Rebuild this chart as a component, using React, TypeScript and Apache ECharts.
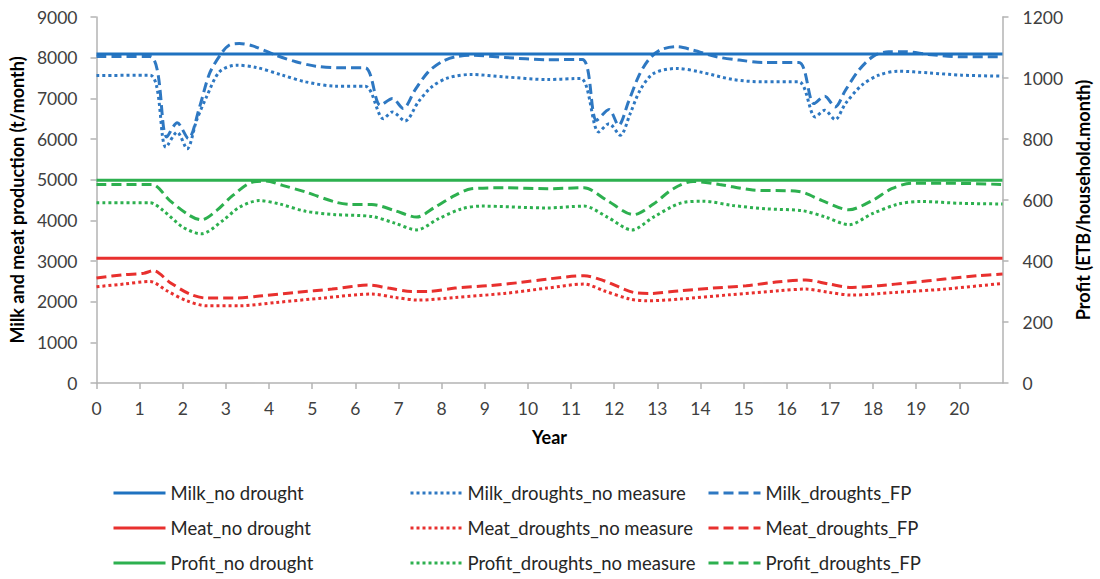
import React, { useEffect, useRef } from "react";
import * as echarts from "echarts";

// Years (x) and values
const xTickLabels = ["0","1","2","3","4","5","6","7","8","9","10","11","12","13","14","15","16","17","18","19","20"];

const milkNoDrought = [[0, 8090], [21, 8090]];
const meatNoDrought = [[0, 3070], [21, 3070]];
const profitNoDrought = [[0, 665], [21, 665]];

const milkNoMeasure = [
  [0, 7560], [1.24, 7570], [1.61, 5800], [1.87, 6170], [2.10, 5760], [2.32, 6460], [2.55, 7035],
  [2.85, 7650], [3.24, 7816], [3.70, 7760], [4.31, 7570], [4.85, 7405], [5.54, 7300], [6.23, 7300],
  [6.65, 6500], [6.86, 6665], [7.15, 6443], [7.46, 6912], [7.77, 7282], [8.15, 7504], [8.69, 7587],
  [9.45, 7528], [10.45, 7463], [11.22, 7490], [11.64, 6172], [11.88, 6378], [12.14, 6090], [12.37, 6625],
  [12.60, 7200], [12.91, 7611], [13.45, 7734], [13.98, 7651], [14.75, 7463], [15.44, 7405], [16.28, 7405],
  [16.66, 6542], [16.88, 6707], [17.12, 6477], [17.36, 6871], [17.74, 7323], [18.13, 7570], [18.59, 7668],
  [19.28, 7626], [20.05, 7570], [21, 7545],
];

const milkFP = [
  [0, 8030], [1.24, 8030], [1.63, 6050], [1.87, 6400], [2.13, 6010], [2.39, 6790], [2.62, 7610],
  [2.89, 8100], [3.08, 8310], [3.31, 8350], [3.62, 8290], [4.16, 8060], [4.62, 7900], [5.08, 7790],
  [5.62, 7750], [6.23, 7750], [6.58, 6830], [6.86, 6995], [7.11, 6750], [7.38, 7200], [7.69, 7650],
  [8.0, 7900], [8.31, 8020], [8.69, 8060], [9.45, 8005], [10.45, 7950], [11.26, 7957], [11.59, 6460],
  [11.88, 6724], [12.10, 6337], [12.33, 6912], [12.56, 7528], [12.79, 7940], [13.06, 8186], [13.45, 8268],
  [13.83, 8186], [14.37, 8021], [14.90, 7940], [15.44, 7882], [16.28, 7882], [16.63, 6871], [16.88, 7052],
  [17.12, 6789], [17.36, 7200], [17.67, 7693], [18.01, 8038], [18.36, 8145], [18.74, 8145], [19.28, 8080],
  [20.05, 8021], [21, 8021],
];

const meatNoMeasure = [
  [0, 2367], [0.63, 2433], [1.24, 2498], [1.63, 2268], [2.09, 2022], [2.55, 1899], [3.31, 1899],
  [4.16, 1980], [5.23, 2088], [6.38, 2187], [6.92, 2104], [7.46, 2039], [8.31, 2104], [9.45, 2202],
  [10.45, 2334], [11.30, 2433], [11.76, 2268], [12.37, 2063], [12.76, 2022], [13.52, 2063], [14.67, 2170],
  [15.82, 2268], [16.44, 2310], [16.98, 2227], [17.51, 2162], [18.51, 2227], [19.66, 2310], [21, 2449],
];

const meatFP = [
  [0, 2581], [0.63, 2663], [1.09, 2696], [1.32, 2762], [1.70, 2474], [2.16, 2187], [2.55, 2088],
  [3.24, 2088], [3.85, 2145], [4.62, 2227], [5.46, 2310], [6.31, 2408], [6.77, 2334], [7.30, 2252],
  [7.69, 2252], [8.31, 2334], [9.07, 2392], [9.84, 2474], [10.45, 2556], [11.30, 2638], [11.76, 2515],
  [12.45, 2227], [12.83, 2202], [13.52, 2268], [14.29, 2334], [15.06, 2392], [15.82, 2490], [16.44, 2532],
  [16.98, 2433], [17.51, 2350], [18.13, 2392], [18.90, 2474], [19.66, 2556], [20.43, 2638], [21, 2680],
];

const profitNoMeasure = [
  [0, 591], [1.24, 591], [1.55, 565], [2.0, 511], [2.43, 489], [2.93, 533], [3.31, 576], [3.77, 598],
  [4.24, 587], [4.85, 563], [5.54, 552], [6.38, 546], [6.92, 524], [7.42, 502], [7.92, 538], [8.46, 571],
  [8.92, 580], [10.45, 574], [11.30, 580], [11.84, 544], [12.41, 502], [12.91, 544], [13.52, 589],
  [14.06, 596], [14.75, 582], [15.52, 571], [16.36, 565], [16.90, 544], [17.44, 519], [17.98, 555],
  [18.59, 587], [19.13, 595], [20.05, 589], [21, 587],
];

const profitFP = [
  [0, 651], [1.28, 651], [1.70, 598], [2.16, 549], [2.43, 535], [2.78, 565], [3.16, 615], [3.62, 659],
  [3.93, 662], [4.31, 648], [4.85, 626], [5.54, 593], [5.92, 585], [6.38, 585], [6.92, 565], [7.42, 544],
  [7.84, 576], [8.31, 615], [8.69, 637], [9.45, 640], [10.45, 637], [11.30, 640], [11.84, 598], [12.45, 552],
  [12.91, 587], [13.37, 637], [13.83, 661], [14.44, 651], [15.21, 633], [16.28, 628], [16.82, 598],
  [17.44, 568], [17.98, 598], [18.43, 637], [18.90, 655], [19.66, 655], [21, 651],
];

const BLUE = "#1f72c0";
const BLUE_D = "#2e78c2";
const RED = "#e8302e";
const GREEN = "#2db04f";
const FONT = "Lato";

export default function App() {
  const ref = useRef<HTMLDivElement>(null);
  useEffect(() => {
    if (!ref.current) return;
    const chart = echarts.init(ref.current, null, { renderer: "svg" });
    const dash = [10, 5];
    const dot = [3, 3];
    const mk = (name: string, data: number[][], color: string, type: any, yAxisIndex = 0, smooth: any = 0.3) => ({
      name,
      type: "line",
      data,
      yAxisIndex,
      symbol: "none",
      smooth,
      lineStyle: { color, width: 3, type },
      itemStyle: { color },
    });
    const legendBase = {
      orient: "vertical",
      top: 483.5,
      padding: 0,
      itemWidth: 52,
      itemHeight: 20,
      itemGap: 16,
      itemStyle: { opacity: 0 },
      lineStyle: { width: 3 },
      textStyle: { fontFamily: FONT, fontSize: 18.5, color: "#262626" },
      selectedMode: false,
    };
    const plain = (v: number) => String(v);
    const titleStyle = { fontFamily: FONT, fontSize: 18, fontWeight: "bold", color: "#000" };
    chart.setOption({
      animation: false,
      textStyle: { fontFamily: FONT },
      grid: { left: 96, right: 92, top: 17, bottom: 196, containLabel: false },
      legend: [
        { ...legendBase, left: 112, data: ["Milk_no drought", "Meat_no drought", "Profit_no drought"] },
        { ...legendBase, left: 409, data: ["Milk_droughts_no measure", "Meat_droughts_no measure", "Profit_droughts_no measure"] },
        { ...legendBase, left: 707, data: ["Milk_droughts_FP", "Meat_droughts_FP", "Profit_droughts_FP"] },
      ],
      xAxis: {
        type: "value",
        min: 0,
        max: 21,
        interval: 1,
        name: "Year",
        nameLocation: "middle",
        nameGap: 45,
        nameTextStyle: titleStyle,
        axisLine: { show: true, onZero: false, lineStyle: { color: "#b3b3b3", width: 1.5 } },
        axisTick: { show: true, length: 6, lineStyle: { color: "#b3b3b3", width: 1.5 } },
        axisLabel: {
          margin: 16,
          fontFamily: FONT,
          fontSize: 17.5,
          color: "#404040",
          showMaxLabel: false,
          formatter: (v: number) => (Number.isInteger(v) && v < xTickLabels.length ? xTickLabels[v] : ""),
        },
        splitLine: { show: false },
      },
      yAxis: [
        {
          type: "value",
          min: 0,
          max: 9000,
          interval: 1000,
          name: "Milk and meat production (t/month)",
          nameLocation: "middle",
          nameGap: 68,
          nameRotate: 90,
          nameTextStyle: titleStyle,
          axisLine: { show: true, lineStyle: { color: "#b3b3b3", width: 1.5 } },
          axisTick: { show: true, length: 6, lineStyle: { color: "#b3b3b3", width: 1.5 } },
          axisLabel: { margin: 19, fontFamily: FONT, fontSize: 17.5, color: "#404040", formatter: plain },
          splitLine: { show: false },
        },
        {
          type: "value",
          min: 0,
          max: 1200,
          interval: 200,
          position: "right",
          name: "Profit (ETB/household.month)",
          nameLocation: "middle",
          nameGap: 71,
          nameRotate: 90,
          nameTextStyle: titleStyle,
          axisLine: { show: true, lineStyle: { color: "#b3b3b3", width: 1.5 } },
          axisTick: { show: true, length: 6, lineStyle: { color: "#b3b3b3", width: 1.5 } },
          axisLabel: { margin: 20, fontFamily: FONT, fontSize: 17.5, color: "#404040", formatter: plain },
          splitLine: { show: false },
        },
      ],
      series: [
        mk("Milk_droughts_no measure", milkNoMeasure, BLUE_D, dot),
        mk("Milk_droughts_FP", milkFP, BLUE_D, dash),
        mk("Meat_droughts_no measure", meatNoMeasure, RED, dot),
        mk("Meat_droughts_FP", meatFP, RED, dash),
        mk("Profit_droughts_no measure", profitNoMeasure, GREEN, dot, 1),
        mk("Profit_droughts_FP", profitFP, GREEN, dash, 1),
        mk("Milk_no drought", milkNoDrought, BLUE, "solid", 0, false),
        mk("Meat_no drought", meatNoDrought, RED, "solid", 0, false),
        mk("Profit_no drought", profitNoDrought, GREEN, "solid", 1, false),
      ],
    });
    return () => chart.dispose();
  }, []);
  return (
    <div
      ref={ref}
      style={{ position: "fixed", left: 0, top: 0, width: 1100, height: 579, background: "#fff" }}
    />
  );
}
